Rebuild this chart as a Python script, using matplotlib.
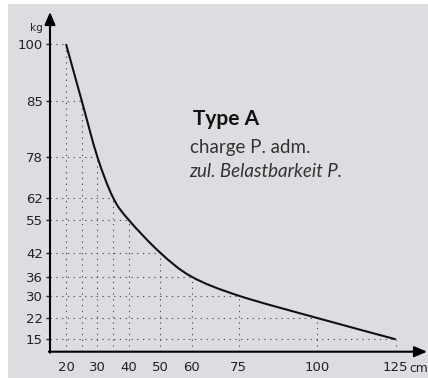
import matplotlib
matplotlib.use("Agg")
import matplotlib.pyplot as plt
import numpy as np
from matplotlib.path import Path
from matplotlib.patches import PathPatch, Rectangle

# permissible load vs. span, Type A
cm = [20, 25, 30, 35, 40, 50, 60, 75, 100, 125]
kg = [100, 85, 78, 62, 55, 42, 36, 30, 22, 15]
xtick_vals = [20, 30, 40, 50, 60, 75, 100, 125]

# the kg axis is drawn non-linear: height (px above the x axis) of each kg mark
tick_h = [307.7, 251.0, 194.7, 154.0, 131.7, 99.0, 75.0, 56.0, 33.7, 12.4]
scale_kg = np.array([0] + sorted(kg) + [120], dtype=float)
scale_h = np.array([-33.2] + sorted(tick_h) + [383.3])


def fwd(v):
    return np.interp(v, scale_kg, scale_h)


def inv(h):
    return np.interp(h, scale_h, scale_kg)


W, H = 428, 378
fig = plt.figure(figsize=(W / 100, H / 100), dpi=100)
fig.patch.set_facecolor('white')
fig.patches.append(Rectangle((8 / W, 0), 1, 1 - 4 / H, transform=fig.transFigure,
                             facecolor='#dcdde0', edgecolor='none', zorder=-10))

ax = fig.add_axes([50 / W, (H - 351.7) / H, (427 - 50) / W, (351.7 - 12) / H])
ax.set_facecolor('none')
ax.set_yscale('function', functions=(fwd, inv))
ax.set_xlim(14.9, 134.97)
ax.set_ylim(inv(0.0), inv(339.7))

for s in ax.spines.values():
    s.set_visible(False)

# dotted guide lines up to each curve point
ymin = ax.get_ylim()[0]
xmin = ax.get_xlim()[0]
dots = dict(colors='#555555', linewidth=0.8, linestyles=(0, (1.2, 4)))
ax.vlines(cm, ymin, kg, **dots)
ax.hlines(kg, xmin, cm, **dots)

# smooth curve: Catmull-Rom through the points, built in scaled space
P = np.column_stack([cm, fwd(np.array(kg, dtype=float))])
T = np.zeros_like(P)
T[1:-1] = (P[2:] - P[:-2]) / 2
T[0] = P[1] - P[0]
T[-1] = P[-1] - P[-2]
verts = [P[0]]
codes = [Path.MOVETO]
for i in range(len(P) - 1):
    verts += [P[i] + T[i] / 3, P[i + 1] - T[i + 1] / 3, P[i + 1]]
    codes += [Path.CURVE4] * 3
verts = np.array(verts)
verts[:, 1] = inv(verts[:, 1])
ax.add_patch(PathPatch(Path(verts, codes), fill=False, edgecolor='#111111',
                       linewidth=1.5, capstyle='butt', zorder=3))

# axes with arrow heads
arrow = dict(arrowstyle='-|>,head_length=0.75,head_width=0.32', lw=1.5,
             color='black', shrinkA=0, shrinkB=0, mutation_scale=10)
ax.annotate('', xy=(0, 1), xytext=(0, -0.003), xycoords='axes fraction',
            arrowprops=arrow, annotation_clip=False)
ax.annotate('', xy=(1, 0), xytext=(-0.003, 0), xycoords='axes fraction',
            arrowprops=arrow, annotation_clip=False)

ax.set_yticks(kg, labels=[str(v) for v in kg])
ax.set_xticks(xtick_vals, labels=[str(v) for v in xtick_vals])
ax.minorticks_off()
ax.tick_params(axis='y', direction='out', length=2.6, width=1.0, pad=2.4,
               labelsize=9.5, colors='#222222')
ax.tick_params(axis='x', length=0, pad=7, labelsize=9.5, colors='#222222')

fig.text(36 / W, 1 - 28 / H, 'kg', fontsize=7.5, color='#222222',
         ha='center', va='center')
fig.text(409 / W, 1 - 368 / H, 'cm', fontsize=8.8, color='#222222',
         ha='left', va='center')

fig.text(193 / W, 1 - 125 / H, 'Type A', fontsize=15, family='Lato',
         weight='bold', color='#111111', va='baseline')
fig.text(190 / W, 1 - 153 / H, 'charge P. adm.', fontsize=13.5, family='Lato',
         weight='normal', color='#333333', va='baseline')
fig.text(189 / W, 1 - 177 / H, 'zul. Belastbarkeit P.', fontsize=13.5,
         family='Lato', weight='normal', style='italic', color='#333333',
         va='baseline')

fig.savefig('out.png', dpi=100, facecolor=fig.get_facecolor())
